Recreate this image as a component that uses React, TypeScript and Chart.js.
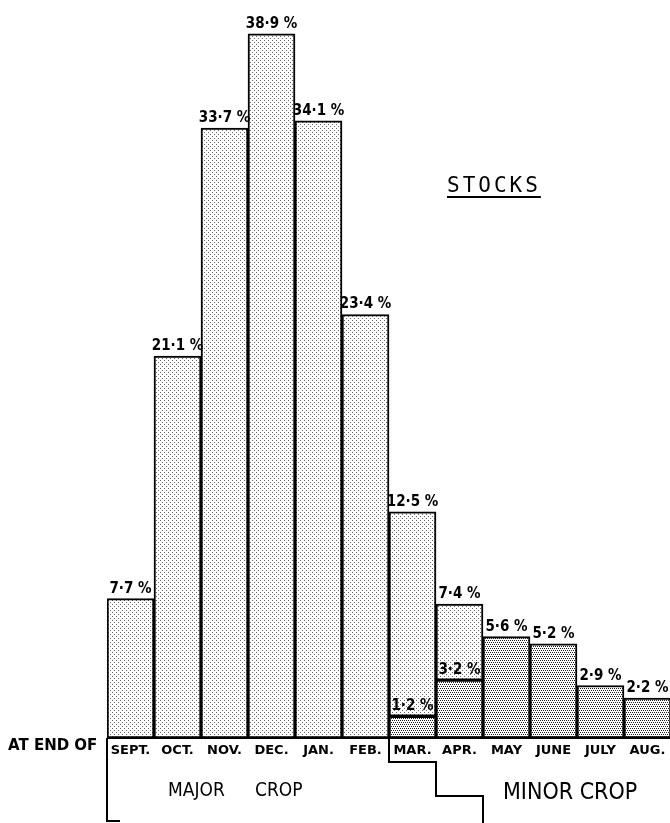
import React, { useEffect, useRef } from "react";
import { Chart, registerables } from "chart.js";

Chart.register(...registerables);

const months = ["SEPT.", "OCT.", "NOV.", "DEC.", "JAN.", "FEB.", "MAR.", "APR.", "MAY", "JUNE", "JULY", "AUG."];
const totalStocks = [7.7, 21.1, 33.7, 38.9, 34.1, 23.4, 12.5, 7.4, 5.6, 5.2, 2.9, 2.2];
const minorCropStocks = [0, 0, 0, 0, 0, 0, 1.2, 3.2, 5.6, 5.2, 2.9, 2.2];
const minorLabelIdx = [6, 7];

const fmt = (v: number) => v.toFixed(1).replace(".", "·") + " %";

function makePattern(dense: boolean): CanvasPattern | string {
  const c = document.createElement("canvas");
  const s = 4;
  c.width = s;
  c.height = s;
  const g = c.getContext("2d");
  if (!g) return dense ? "#aaa" : "#ddd";
  g.fillStyle = "#ffffff";
  g.fillRect(0, 0, s, s);
  g.fillStyle = dense ? "#222" : "#666";
  if (dense) {
    g.fillRect(0, 0, 1, 1);
    g.fillRect(2, 0, 1, 1);
    g.fillRect(1, 2, 1, 1);
    g.fillRect(3, 2, 1, 1);
  } else {
    g.fillRect(0, 0, 1, 1);
    g.fillRect(2, 2, 1, 1);
  }
  const p = g.createPattern(c, "repeat");
  return p || (dense ? "#aaa" : "#ddd");
}

export default function App() {
  const ref = useRef<HTMLCanvasElement | null>(null);

  useEffect(() => {
    if (!ref.current) return;
    const majorCropStocks = totalStocks.map((t, i) => +(t - minorCropStocks[i]).toFixed(1));
    const lightFill = makePattern(false);
    const darkFill = makePattern(true);

    const deco = {
      id: "deco",
      afterDraw(chart: any) {
        const ctx = chart.ctx;
        const area = chart.chartArea;
        const meta = chart.getDatasetMeta(0);
        const metaTop = chart.getDatasetMeta(1);
        const leftEdge = (i: number) => meta.data[i].x - meta.data[i].width / 2;
        ctx.save();
        ctx.strokeStyle = "#000";
        ctx.lineWidth = 2;
        ctx.beginPath();
        ctx.moveTo(area.left, area.bottom);
        ctx.lineTo(area.right, area.bottom);
        ctx.stroke();
        // left bracket
        ctx.beginPath();
        ctx.moveTo(area.left, area.bottom);
        ctx.lineTo(area.left, 821);
        ctx.lineTo(area.left + 13, 821);
        ctx.stroke();
        // step line major/minor
        const xMar = leftEdge(6);
        const xApr = leftEdge(7);
        const xMay = leftEdge(8);
        ctx.beginPath();
        ctx.moveTo(xMar, area.bottom);
        ctx.lineTo(xMar, 762);
        ctx.lineTo(xApr, 762);
        ctx.lineTo(xApr, 796);
        ctx.lineTo(xMay, 796);
        ctx.lineTo(xMay, 823);
        ctx.stroke();
        // value labels
        ctx.fillStyle = "#000";
        ctx.font = "bold 15px 'DejaVu Sans Condensed', 'DejaVu Sans'";
        ctx.textAlign = "center";
        ctx.textBaseline = "alphabetic";
        totalStocks.forEach((v, i) => {
          const el = metaTop.data[i];
          const yTop = chart.scales.y.getPixelForValue(v);
          ctx.fillText(fmt(v), el.x, yTop - 6);
        });
        minorLabelIdx.forEach((i) => {
          const el = meta.data[i];
          const v = minorCropStocks[i];
          ctx.fillText(fmt(v), el.x, chart.scales.y.getPixelForValue(v) - 6);
        });
        ctx.restore();
      },
    };

    const chart = new Chart(ref.current, {
      type: "bar",
      data: {
        labels: months,
        datasets: [
          {
            label: "Minor crop",
            data: minorCropStocks,
            backgroundColor: darkFill as any,
            borderColor: "#000",
            borderWidth: 2,
            borderSkipped: false,
            categoryPercentage: 1,
            barPercentage: 1,
          },
          {
            label: "Major crop",
            data: majorCropStocks,
            backgroundColor: lightFill as any,
            borderColor: "#000",
            borderWidth: 2,
            borderSkipped: false,
            categoryPercentage: 1,
            barPercentage: 1,
          },
        ],
      },
      options: {
        responsive: false,
        animation: false,
        devicePixelRatio: 1,
        layout: { padding: { left: 107, right: 1, top: 14, bottom: 0 } },
        plugins: { legend: { display: false }, tooltip: { enabled: false } },
        scales: {
          x: {
            stacked: true,
            grid: { display: false, drawTicks: false },
            border: { display: false },
            ticks: {
              color: "#000",
              font: { family: "'DejaVu Sans'", size: 13, weight: "bold" },
              padding: 5,
              autoSkip: false,
              maxRotation: 0,
            },
            afterFit: (scale: any) => {
              scale.height = 85;
            },
          },
          y: {
            stacked: true,
            display: false,
            min: 0,
            max: 40,
          },
        },
      },
      plugins: [deco],
    } as any);
    return () => chart.destroy();
  }, []);

  const abs = (extra: React.CSSProperties): React.CSSProperties => ({
    position: "absolute",
    whiteSpace: "nowrap",
    color: "#000",
    ...extra,
  });

  return (
    <div style={{ position: "absolute", left: 0, top: 0, width: 670, height: 823, overflow: "hidden", background: "#fff" }}>
      <canvas ref={ref} width={672} height={823} style={{ position: "absolute", left: 0, top: 0, width: 672, height: 823 }} />
      <div
        style={abs({
          left: 447,
          top: 175,
          fontFamily: "'DejaVu Sans Mono'",
          fontSize: 21,
          lineHeight: "21px",
          letterSpacing: 3,
          textDecoration: "underline",
          textDecorationThickness: 2,
          textUnderlineOffset: 4,
        })}
      >
        STOCKS
      </div>
      <div style={abs({ left: 8, top: 738, fontFamily: "'DejaVu Sans'", fontWeight: "bold", fontSize: 15, lineHeight: "15px" })}>
        AT END OF
      </div>
      <div style={abs({ left: 168, top: 780, fontFamily: "'DejaVu Sans Condensed', 'DejaVu Sans'", fontSize: 19, lineHeight: "19px" })}>
        MAJOR
      </div>
      <div style={abs({ left: 255, top: 780, fontFamily: "'DejaVu Sans Condensed', 'DejaVu Sans'", fontSize: 19, lineHeight: "19px" })}>
        CROP
      </div>
      <div style={abs({ left: 503, top: 780, fontFamily: "'DejaVu Sans Condensed', 'DejaVu Sans'", fontSize: 23, lineHeight: "23px" })}>
        MINOR CROP
      </div>
    </div>
  );
}
